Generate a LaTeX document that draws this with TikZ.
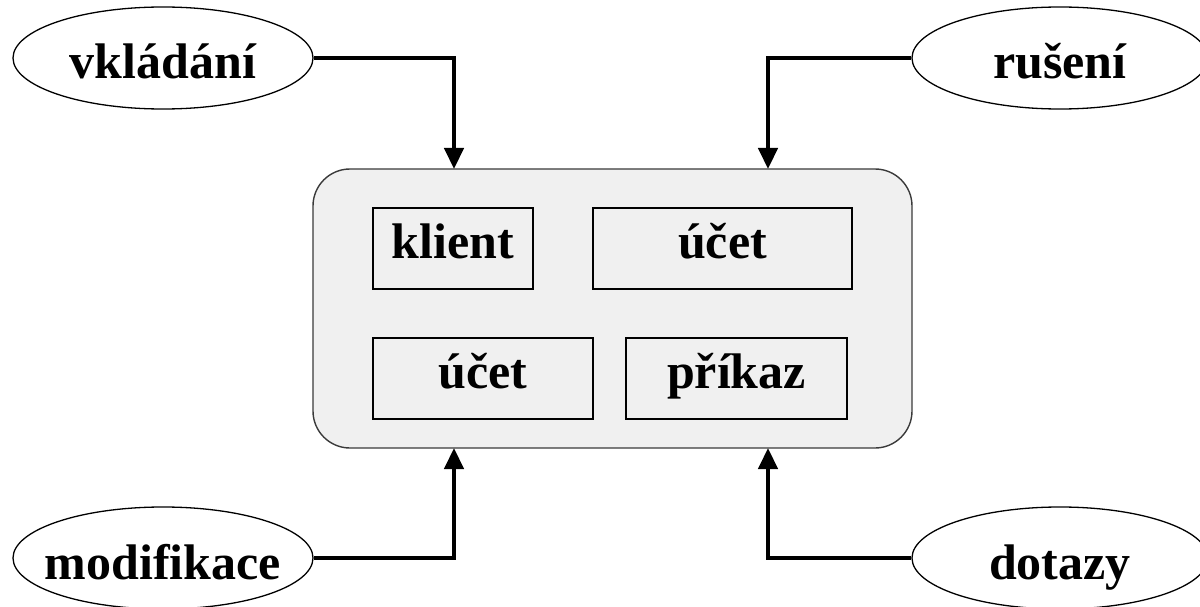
\documentclass[tikz,border=0pt]{standalone}
\usepackage{fontspec}
\setmainfont{Liberation Serif}
\usetikzlibrary{shapes.geometric,arrows.meta}
\definecolor{boxfill}{HTML}{F0F0F0}
\definecolor{boxline}{HTML}{3A3A3A}
\newcommand{\zerow}[1]{\makebox[0pt]{#1}}
\tikzset{
  lbl/.style={font=\fontsize{50}{60}\selectfont\bfseries},
  ell/.style={lbl, ellipse, draw=black, line width=1.3pt, fill=white,
    minimum width=300pt, minimum height=102pt, inner sep=0pt,
    text height=42pt, text depth=0pt},
  ellr/.style={ell, minimum width=296pt},
  outerbox/.style={draw=boxline, fill=boxfill, line width=1.4pt,
    rounded corners=37pt, minimum width=599pt, minimum height=279pt, inner sep=0pt},
  innerbox/.style={lbl, draw=black, line width=1.8pt, minimum height=81pt,
    inner sep=0pt, text height=30pt, text depth=11pt},
  conn/.style={line width=4.5pt, -{Triangle[length=21pt,width=19pt]}}
}
\begin{document}
\begin{tikzpicture}[x=1pt,y=-1pt]
\useasboundingbox (0,0) rectangle (1200,607);
% main box
\node[outerbox] (box) at (612.5,308.5) {};
\node[innerbox, minimum width=160pt] (klient) at (453,248.5) {klient};
\node[innerbox, minimum width=259pt] (ucet1) at (722.5,248.5) {účet};
\node[innerbox, minimum width=220pt] (ucet2) at (483,378.5) {účet};
\node[innerbox, minimum width=221pt] (prikaz) at (736.5,378.5) {příkaz};
% ellipses
\node[ell] (vkl) at (163,58) {\zerow{vkládání}};
\node[ellr] (rus) at (1060,58) {\zerow{rušení}};
\node[ell] (mod) at (163,558) {\zerow{modifikace}};
\node[ellr] (dot) at (1060,558) {\zerow{dotazy}};
% arrow ends on the box
\coordinate (t1) at (454,169);
\coordinate (t2) at (768,169);
\coordinate (b1) at (454,448);
\coordinate (b2) at (768,448);
\draw[conn] (vkl.east) -| (t1);
\draw[conn] (rus.west) -| (t2);
\draw[conn] (mod.east) -| (b1);
\draw[conn] (dot.west) -| (b2);
\end{tikzpicture}
\end{document}
